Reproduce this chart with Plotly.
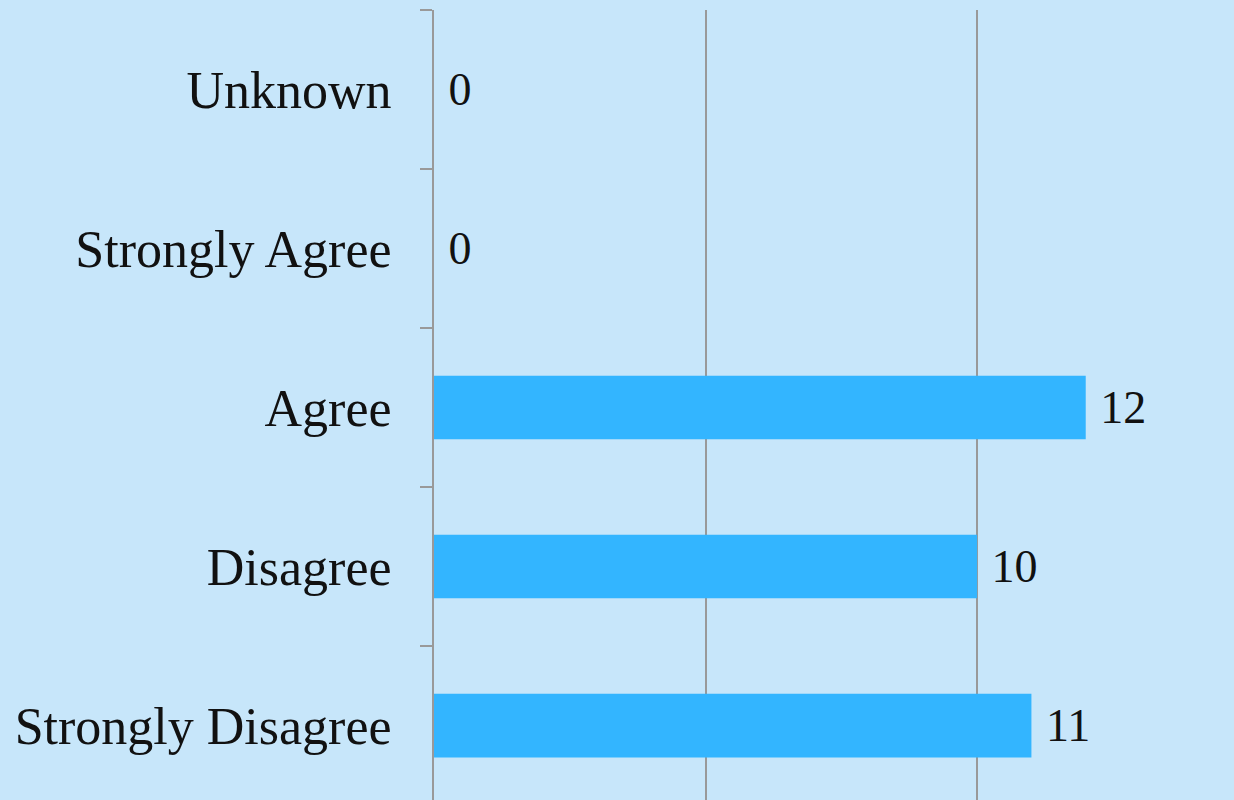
import plotly.graph_objects as go

categories = ["Strongly Disagree", "Disagree", "Agree", "Strongly Agree", "Unknown"]
values = [11, 10, 12, 0, 0]

BG = "#C7E6FA"
BAR = "#33B5FF"
GRID = "#999999"
FONT = "Liberation Serif"

fig = go.Figure(
    go.Bar(
        y=categories,
        x=values,
        orientation="h",
        width=0.4,
        marker=dict(color=BAR, line=dict(width=0)),
        text=[str(v) for v in values],
        texttemplate="\u2005%{text}",
        textposition="outside",
        cliponaxis=False,
        textfont=dict(family=FONT, size=46, color="#111111"),
        hoverinfo="skip",
    )
)

fig.update_layout(
    width=1234,
    height=800,
    paper_bgcolor=BG,
    plot_bgcolor=BG,
    margin=dict(l=434, r=0, t=10, b=0, autoexpand=False),
    showlegend=False,
    font=dict(family=FONT, size=52, color="#111111"),
    xaxis=dict(
        range=[0, 14.73],
        showticklabels=False,
        showgrid=True,
        gridcolor=GRID,
        gridwidth=1.5,
        dtick=5,
        zeroline=False,
        showline=False,
        ticks="",
        fixedrange=True,
    ),
    yaxis=dict(
        range=[-0.468, 4.5],
        categoryorder="array",
        categoryarray=categories,
        showline=True,
        linecolor=GRID,
        linewidth=2,
        ticks="outside",
        tickson="boundaries",
        ticklen=12,
        tickcolor=GRID,
        tickwidth=2,
        ticklabelstandoff=30,
        showgrid=False,
        tickfont=dict(family=FONT, size=52, color="#111111"),
        automargin=False,
        fixedrange=True,
    ),
)

fig.write_html(
    "out.html",
    config={"displayModeBar": False},
    post_script="document.body.style.margin='0';document.body.style.overflow='hidden';",
)
